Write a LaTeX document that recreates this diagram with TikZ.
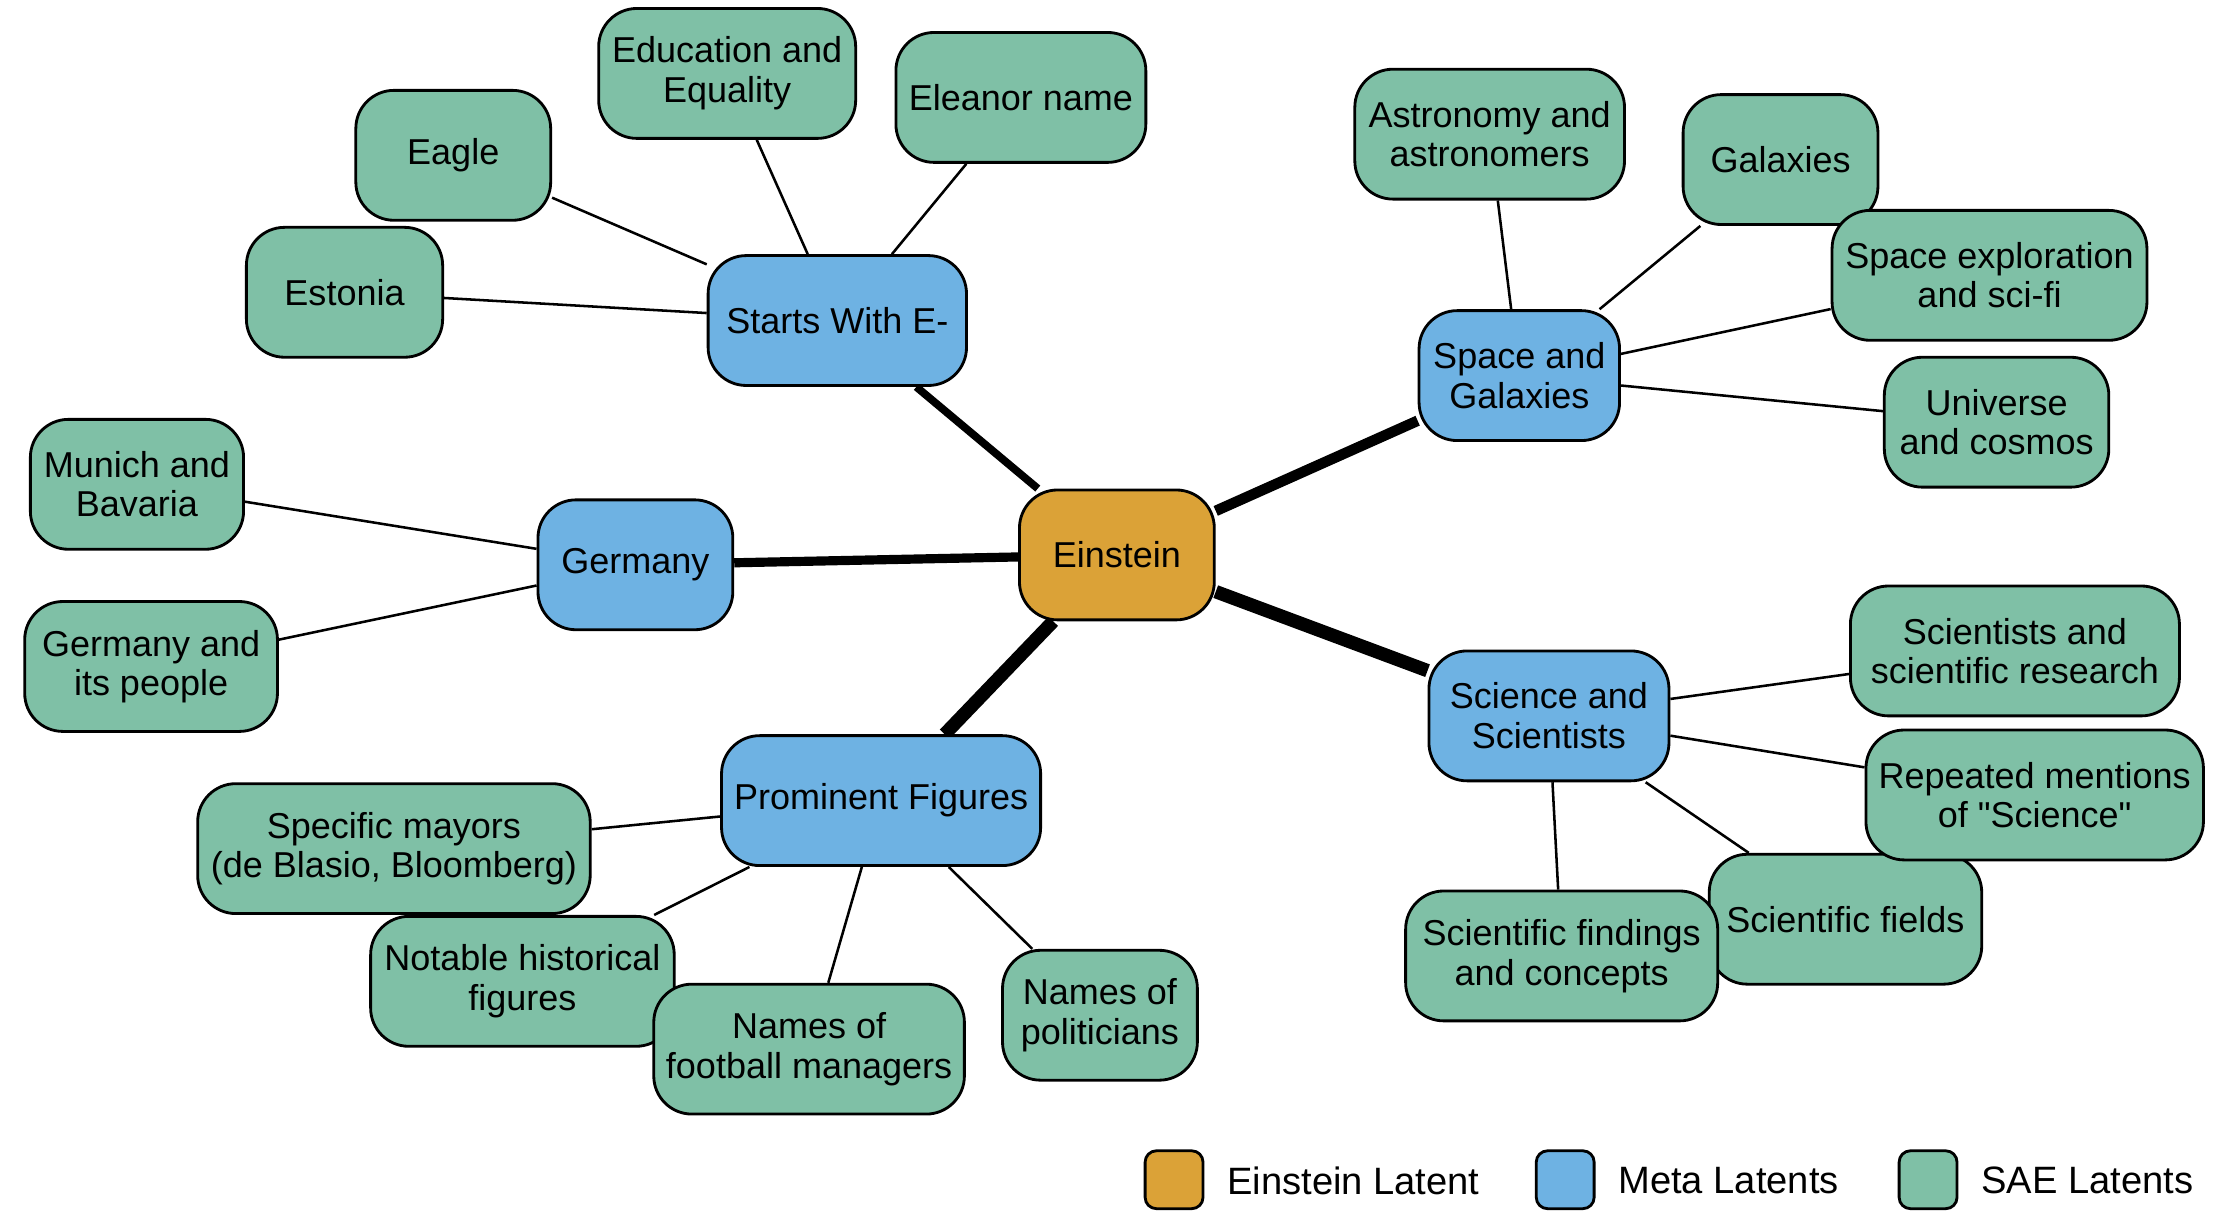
\documentclass[tikz,border=0pt]{standalone}
\usepackage{fontspec}
\setmainfont{Liberation Sans}[Ligatures=TeXOff]
\definecolor{cEin}{HTML}{DBA237}
\definecolor{cMeta}{HTML}{6EB2E3}
\definecolor{cSae}{HTML}{7FC0A6}
\pgfdeclarelayer{bg}
\pgfsetlayers{bg,main}
\begin{document}
\begin{tikzpicture}[x=1pt,y=-1pt,
  box/.style={draw=black, line width=2pt, rounded corners=27pt, minimum height=92pt,
    inner sep=0pt, align=center, font=\fontsize{25.5}{28}\selectfont},
  ein/.style={box, fill=cEin},
  meta/.style={box, fill=cMeta},
  sae/.style={box, fill=cSae},
  thinedge/.style={line width=1.8pt},
  legbox/.style={draw=black, line width=2pt, rounded corners=8pt, minimum width=41pt,
    minimum height=41pt, inner sep=0pt},
  legtext/.style={anchor=west, inner sep=0pt, font=\fontsize{27}{30}\selectfont}]
\useasboundingbox (0,0) rectangle (1568,862.6);

% central and meta nodes
\node[ein, minimum width=138pt] (ein) at (791,393) {Einstein};
\node[meta, minimum width=183pt] (starts) at (593,227) {Starts With E-};
\node[meta, minimum width=138pt] (germ) at (450,400) {Germany};
\node[meta, minimum width=142pt] (space) at (1076,266) {Space and\\Galaxies};
\node[meta, minimum width=170pt] (sci) at (1097,507) {Science and\\Scientists};
\node[meta, minimum width=226pt] (prom) at (624,567) {Prominent Figures};

% SAE nodes
\node[sae, minimum width=182pt] (edu) at (515,52) {Education and\\Equality};
\node[sae, minimum width=177pt] (elea) at (723,69) {Eleanor name};
\node[sae, minimum width=138pt] (eagle) at (321,110) {Eagle};
\node[sae, minimum width=139pt] (eston) at (244,207) {Estonia};
\node[sae, minimum width=151pt] (munich) at (97,343) {Munich and\\Bavaria};
\node[sae, minimum width=179pt] (gpeople) at (107,472) {Germany and\\its people};
\node[sae, minimum width=191pt] (astro) at (1055,95) {Astronomy and\\astronomers};
\node[sae, minimum width=138pt] (gal) at (1261,113) {Galaxies};
\node[sae, minimum width=223pt] (sexp) at (1409,195) {Space exploration\\and sci-fi};
\node[sae, minimum width=159pt] (univ) at (1414,299) {Universe\\and cosmos};
\node[sae, minimum width=233pt] (scires) at (1427,461) {Scientists and\\scientific research};
\node[sae, minimum width=193pt] (fields) at (1307,651) {Scientific fields};
\node[sae, minimum width=239pt] (repeat) at (1441,563) {Repeated mentions\\of "Science"};
\node[sae, minimum width=221pt] (find) at (1106,677) {Scientific findings\\and concepts};
\node[sae, minimum width=278pt] (mayor) at (279,601) {Specific mayors\\(de Blasio, Bloomberg)};
\node[sae, minimum width=215pt] (notab) at (370,695) {Notable historical\\figures};
\node[sae, minimum width=220pt] (foot) at (573,743) {Names of\\football managers};
\node[sae, minimum width=138pt] (polit) at (779,719) {Names of\\politicians};

% connectors
\begin{pgfonlayer}{bg}
\draw[line width=5.5pt] (ein) -- (starts);
\draw[line width=6.5pt] (ein) -- (germ);
\draw[line width=7.5pt] (ein) -- (space);
\draw[line width=9.5pt] (ein) -- (sci);
\draw[line width=9.5pt] (ein) -- (prom);
\draw[thinedge] (starts) -- (edu);
\draw[thinedge] (starts) -- (elea);
\draw[thinedge] (starts) -- (eagle);
\draw[thinedge] (starts) -- (eston);
\draw[thinedge] (germ) -- (munich);
\draw[thinedge] (germ) -- (gpeople);
\draw[thinedge] (space) -- (astro);
\draw[thinedge] (space) -- (gal);
\draw[thinedge] (space) -- (sexp);
\draw[thinedge] (space) -- (univ);
\draw[thinedge] (sci) -- (scires);
\draw[thinedge] (sci) -- (repeat);
\draw[thinedge] (sci) -- (fields);
\draw[thinedge] (sci) -- (find);
\draw[thinedge] (prom) -- (mayor);
\draw[thinedge] (prom) -- (notab);
\draw[thinedge] (prom) -- (foot);
\draw[thinedge] (prom) -- (polit);
\end{pgfonlayer}

% legend
\node[legbox, fill=cEin] (lg1) at (831.5,835.5) {};
\node[legtext] (lt1) at (869,836) {Einstein Latent};
\node[legbox, fill=cMeta] (lg2) at (1108.5,835.5) {};
\node[legtext] (lt2) at (1146,836) {Meta Latents};
\node[legbox, fill=cSae] (lg3) at (1365.5,835.5) {};
\node[legtext] (lt3) at (1403,836) {SAE Latents};
\end{tikzpicture}
\end{document}
